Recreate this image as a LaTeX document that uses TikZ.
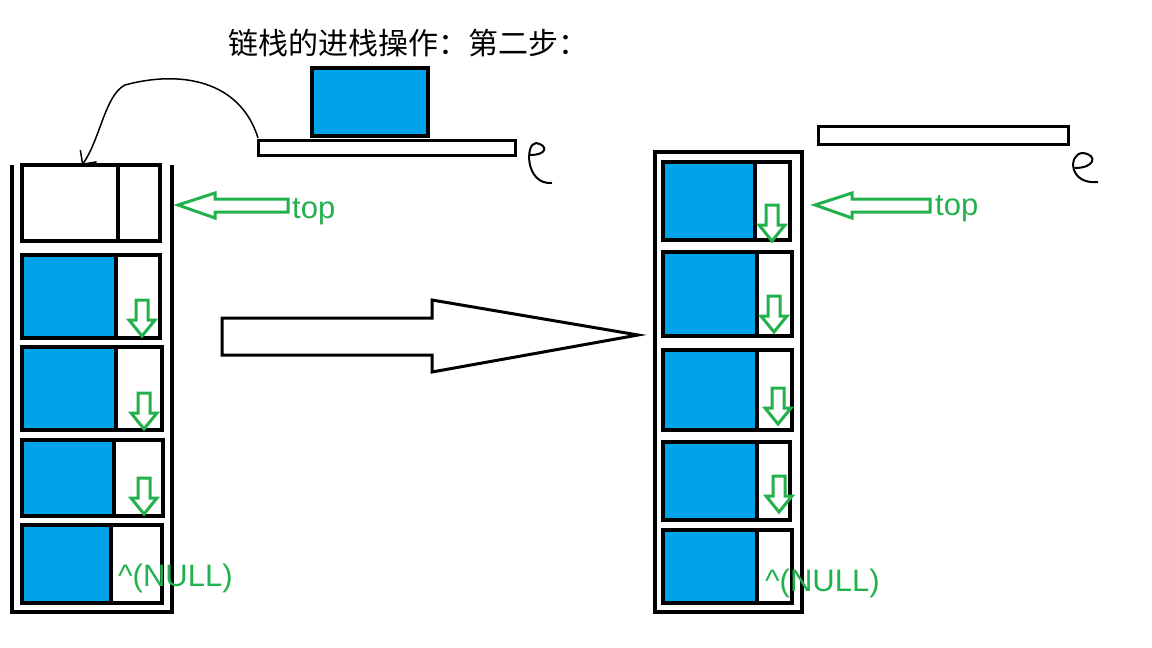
\documentclass[tikz,border=0pt]{standalone}
\usepackage{fontspec}
\usetikzlibrary{arrows.meta}
\newfontfamily\cjk{Noto Sans CJK SC}
\setmainfont{Liberation Sans}
\definecolor{paintblue}{RGB}{0,162,232}
\definecolor{paintgreen}{RGB}{34,177,76}
\tikzset{
  cellbox/.style={draw=black,line width=4pt},
  hollow/.style={draw=paintgreen,line width=3pt,fill=white,line join=miter},
  gtext/.style={text=paintgreen,font=\fontsize{31}{33}\selectfont,inner sep=0pt}
}
% small hollow down arrow, top-centre at (#1,#2)
\newcommand{\downptr}[2]{
  \draw[hollow] (#1-6,#2) -- (#1+6,#2) -- (#1+6,#2+20) -- (#1+13,#2+20)
    -- (#1,#2+36) -- (#1-13,#2+20) -- (#1-6,#2+20) -- cycle;
}
% one stack cell: x-left, y-top, x-split, x-right, y-bottom
\newcommand{\stackcell}[5]{
  \fill[paintblue] (#1,#2) rectangle (#3,#5);
  \draw[cellbox] (#1,#2) rectangle (#4,#5);
  \draw[cellbox] (#3,#2) -- (#3,#5);
}
\begin{document}
\begin{tikzpicture}[x=1pt,y=-1pt]
\useasboundingbox (0,0) rectangle (1152,648);
\node[font=\cjk\fontsize{30}{32}\selectfont,inner sep=0pt] (title) at (408,43) {链栈的进栈操作：第二步：};
% left stack
\draw[line width=4pt] (12,165) -- (12,612) -- (172,612) -- (172,165);
\draw[cellbox] (22,165) rectangle (160,241);
\draw[cellbox] (118,165) -- (118,241);
\stackcell{22}{255}{116}{160}{338}
\stackcell{22}{347}{116}{162}{430}
\stackcell{22}{440}{114}{163}{516}
\stackcell{22}{525}{111}{162}{603}
\downptr{142}{300}
\downptr{144}{393}
\downptr{144}{478}
% new node being pushed
\draw[cellbox,fill=paintblue] (312,68) rectangle (428,136);
\draw[line width=3pt] (258,140) rectangle (515,155);
\draw[line width=2pt] (530,155) .. controls (548,155) and (548,145) .. (536,143)
  .. controls (525,143) and (525,185) .. (552,183);
\coordinate (from) at (258,138);
\coordinate (to) at (82,165);
\draw[line width=1.5pt,-{Straight Barb[length=10pt]}] (from) .. controls (240,80) and (180,70) .. (125,85)
  .. controls (105,95) and (100,140) .. (to);
% top arrow left
\draw[hollow] (178,205) -- (215,193) -- (215,199) -- (288,199) -- (288,212) -- (215,212) -- (215,218) -- cycle;
\node[gtext,anchor=west] (topl) at (292,212) {top};
\node[gtext,anchor=west] (nulll) at (118,578) {\^{}(NULL)};
% big arrow
\draw[line width=3pt,fill=white] (222,318) -- (432,318) -- (432,300) -- (638,335) -- (432,372) -- (432,355) -- (222,355) -- cycle;
% right stack
\draw[line width=4pt] (655,152) rectangle (802,612);
\stackcell{663}{162}{755}{790}{240}
\stackcell{663}{252}{757}{792}{336}
\stackcell{663}{350}{757}{792}{430}
\stackcell{663}{442}{757}{790}{520}
\stackcell{663}{530}{757}{792}{603}
\downptr{772}{205}
\downptr{774}{296}
\downptr{778}{388}
\downptr{779}{476}
\draw[line width=3pt] (818,126) rectangle (1068,144);
\draw[line width=2pt] (1075,168) .. controls (1095,168) and (1098,155) .. (1083,153)
  .. controls (1068,153) and (1068,185) .. (1098,182);
\draw[hollow] (815,205) -- (852,193) -- (852,199) -- (930,199) -- (930,212) -- (852,212) -- (852,218) -- cycle;
\node[gtext,anchor=west] (topr) at (935,209) {top};
\node[gtext,anchor=west] (nullr) at (765,583) {\^{}(NULL)};
\end{tikzpicture}
\end{document}
